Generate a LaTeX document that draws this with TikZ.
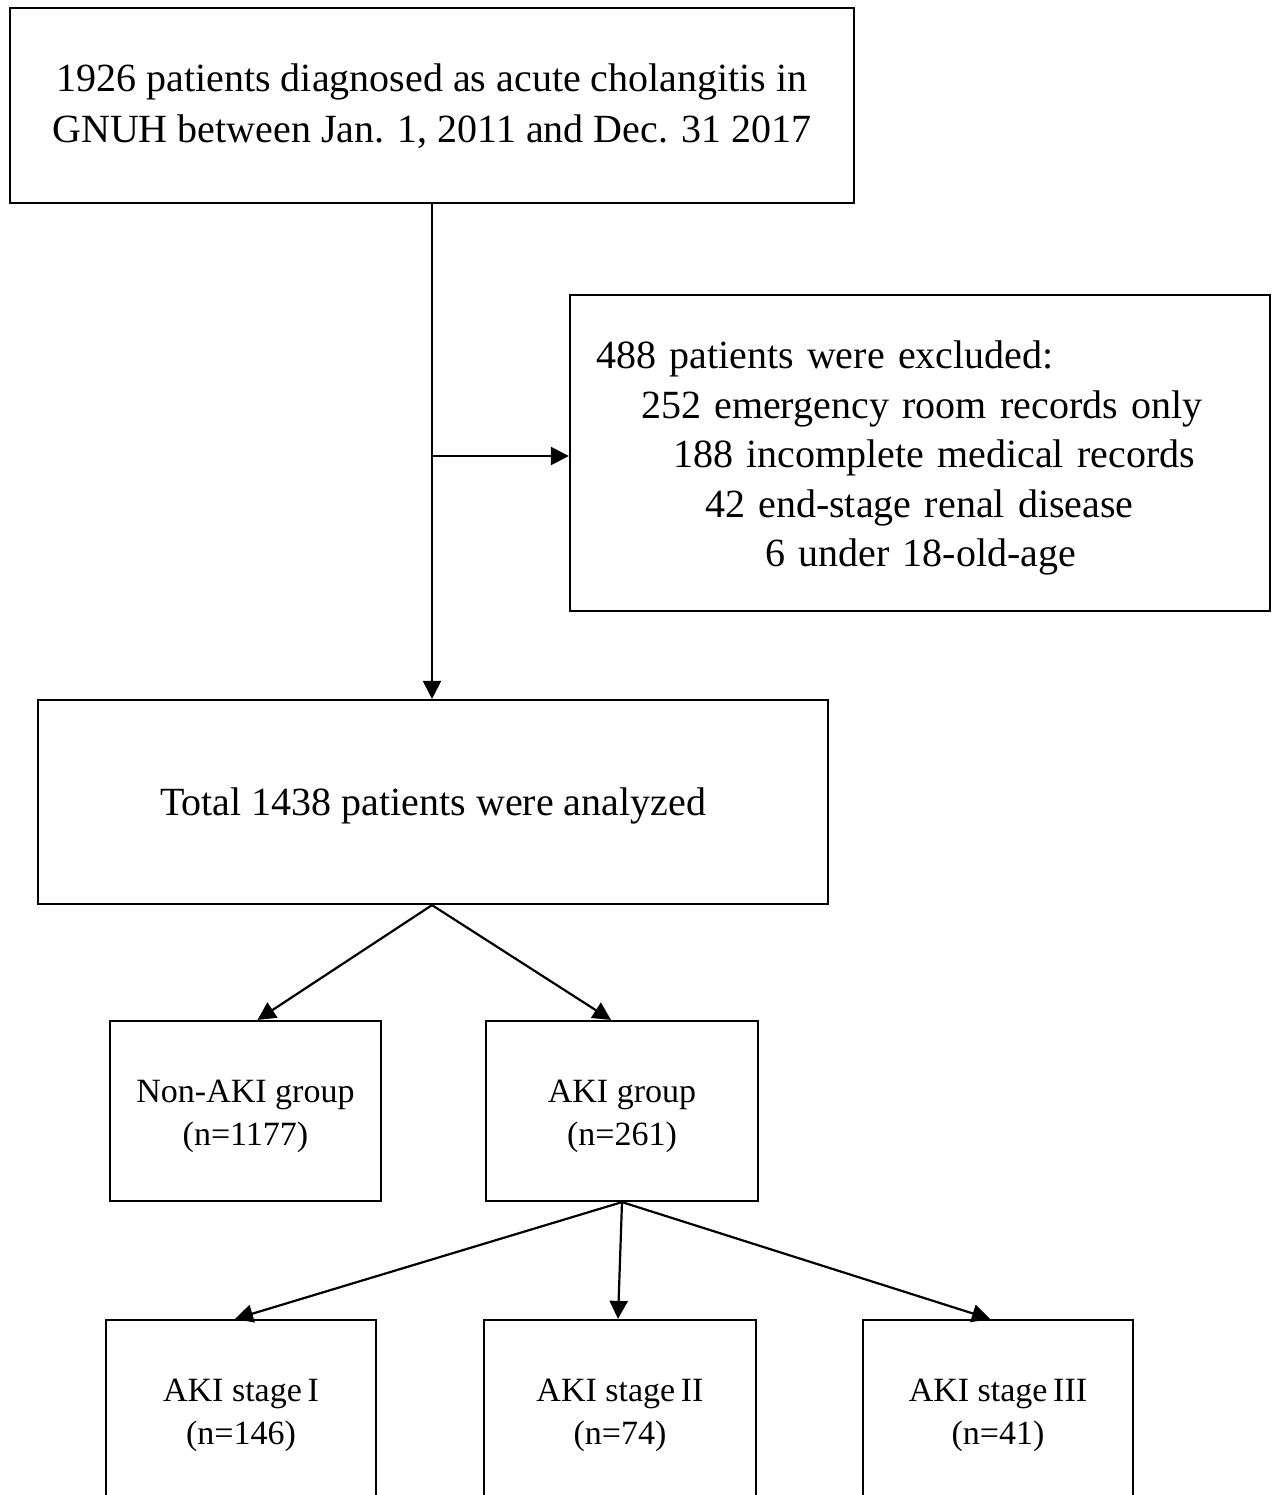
\documentclass[tikz,border=0pt]{standalone}
\usepackage{fontspec}
\setmainfont{Liberation Serif}
\usetikzlibrary{arrows.meta,calc}
\begin{document}
\begin{tikzpicture}[x=1pt,y=-1pt,
  box/.style={draw, line width=2.2pt, inner sep=0pt, align=center},
  big/.style={font=\fontsize{40}{51}\selectfont},
  small/.style={font=\fontsize{34}{43}\selectfont},
  arr/.style={line width=2.2pt, -{Triangle[length=18pt,width=18pt]}}]
\useasboundingbox (0,0) rectangle (1274,1495);
\clip (0,0) rectangle (1274,1495);
\node[box,big,minimum width=844pt,minimum height=195pt] (top) at (432,105.5)
  {\rule{0pt}{29pt}1926 patients diagnosed as acute cholangitis in\\GNUH between Jan. 1, 2011 and Dec. 31 2017};
\node[box,font=\fontsize{40}{49.5}\selectfont,minimum width=700pt,minimum height=316pt,
  text width=648pt,inner xsep=26pt,align=left] (excl) at (920,453)
  {\rule{0pt}{38pt}488 patients were excluded:\\
   \hspace*{45pt}252 emergency room records only\\
   \hspace*{77pt}188 incomplete medical records\\
   \hspace*{109pt}42 end-stage renal disease\\
   \hspace*{169pt}6 under 18-old-age};
\node[box,big,minimum width=790pt,minimum height=204pt] (total) at (433,802)
  {\rule{0pt}{35.5pt}Total 1438 patients were analyzed};
\node[box,small,minimum width=271pt,minimum height=180pt] (nonaki) at (245.5,1111)
  {\rule{0pt}{33pt}Non-AKI group\\(n=1177)};
\node[box,small,minimum width=272pt,minimum height=180pt] (aki) at (622,1111)
  {\rule{0pt}{33pt}AKI group\\(n=261)};
\node[box,small,minimum width=270pt,minimum height=182pt] (s1) at (241,1411)
  {\rule{0pt}{31pt}AKI stage\,I\\(n=146)};
\node[box,small,minimum width=272pt,minimum height=182pt] (s2) at (620,1411)
  {\rule{0pt}{31pt}AKI stage\,II\\(n=74)};
\node[box,small,minimum width=270pt,minimum height=182pt] (s3) at (998,1411)
  {\rule{0pt}{31pt}AKI stage\,III\\(n=41)};
\coordinate (br) at (432,456);
\draw[arr] (top.south -| br) -- (total.north -| br);
\draw[arr] (br) -- (br -| excl.west);
\draw[arr] (total.south -| br) -- ([xshift=12pt]nonaki.north);
\draw[arr] (total.south -| br) -- ([xshift=-11pt]aki.north);
\draw[arr] (aki.south) -- ([xshift=-6pt]s1.north);
\draw[arr] (aki.south) -- ([xshift=-2pt]s2.north);
\draw[arr] (aki.south) -- ([xshift=-8pt]s3.north);
\end{tikzpicture}
\end{document}
